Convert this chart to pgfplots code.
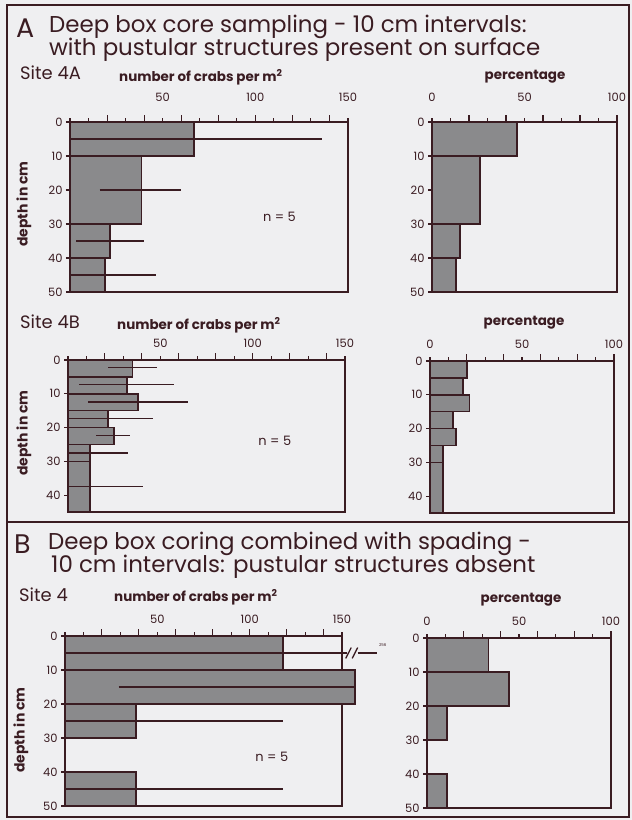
\documentclass[border=0pt]{standalone}
\usepackage{fontspec}
\setmainfont{Poppins}
\usepackage{pgfplots}
\pgfplotsset{compat=1.18}
\definecolor{bgc}{RGB}{239,239,241}
\definecolor{lc}{RGB}{58,28,34}
\definecolor{barc}{RGB}{138,138,140}
\pgfplotsset{
  panel/.style={scale only axis, anchor=north west, clip=false,
    axis line style={lc, line width=1.8bp},
    tick align=outside, xtick pos=right, ytick pos=left, xticklabel pos=right,
    major tick length=4bp, every tick/.style={lc, line width=1.1bp},
    tick label style={font=\fontsize{11.5}{12}\selectfont, text=lc},
    xticklabel style={yshift=5bp},
    extra tick style={major tick length=7bp},
    /pgf/number format/assume math mode=true,
    xmin=0, ymax=0},
  crabs/.style={panel, width=278bp, xmax=150, xtick={0,10,...,150},
    xticklabels={,,,,,50,,,,,100,,,,,150},
    extra x ticks={20,40,...,140}, extra x tick labels={}},
  perc/.style={panel, width=185bp, xmax=100, xtick={0,10,...,100},
    xticklabels={0,,,,,50,,,,,100},
    extra x ticks={20,40,...,100}, extra x tick labels={}},
  deep/.style={height=170bp, ymin=-50, ytick={-50,-40,...,0}, yticklabels={50,40,30,20,10,0}},
  shallow/.style={height=152bp, ymin=-45, ytick={-40,-30,...,0}, yticklabels={40,30,20,10,0}},
  bar/.style={fill=barc, draw=lc, line width=1.6bp},
  err/.style={lc, line width=1.3bp},
}
\newcommand{\ttl}{\fontsize{23}{24}\selectfont}
\newcommand{\site}{\fontsize{18}{19}\selectfont}
\newcommand{\lab}{\fontsize{13.5}{14}\selectfont\bfseries}
\newcommand{\dep}{\fontsize{14}{14}\selectfont\bfseries}
\newcommand{\nn}{\fontsize{13}{14}\selectfont}
\begin{document}
\begin{tikzpicture}
\useasboundingbox (0,0) rectangle (632bp,-820bp);
\fill[bgc] (0,0) rectangle (632bp,-820bp);
\draw[lc, line width=1.6bp] (7bp,-5bp) rectangle (629bp,-817bp);
\draw[lc, line width=2.4bp] (7bp,-522bp) -- (629bp,-522bp);
% Titles
\node[anchor=west, text=lc, inner sep=0] at (16bp,-28bp) {\fontsize{27}{28}\selectfont A};
\node[anchor=west, text=lc, inner sep=0] at (49bp,-27bp) {\ttl Deep box core sampling - 10 cm intervals:};
\node[anchor=west, text=lc, inner sep=0] at (49bp,-50bp) {\ttl with pustular structures present on surface};
\node[anchor=west, text=lc, inner sep=0] at (14bp,-544bp) {\fontsize{27}{28}\selectfont B};
\node[anchor=west, text=lc, inner sep=0] at (48bp,-544bp) {\ttl Deep box coring combined with spading -};
\node[anchor=west, text=lc, inner sep=0] at (51bp,-567bp) {\ttl 10 cm intervals: pustular structures absent};
% Site labels
\node[anchor=west, text=lc, inner sep=0] at (20bp,-73bp) {\site Site 4A};
\node[anchor=west, text=lc, inner sep=0] at (20bp,-322bp) {\site Site 4B};
\node[anchor=west, text=lc, inner sep=0] at (19bp,-595bp) {\site Site 4};
\node[anchor=west, text=lc, inner sep=0] at (119bp,-77bp) {\lab number of crabs per m\textsuperscript{2}};
\node[anchor=west, text=lc, inner sep=0] at (117bp,-325bp) {\lab number of crabs per m\textsuperscript{2}};
\node[anchor=west, text=lc, inner sep=0] at (114bp,-597bp) {\lab number of crabs per m\textsuperscript{2}};
\node[text=lc, inner sep=0] at (525bp,-77bp) {\lab percentage};
\node[text=lc, inner sep=0] at (524bp,-323bp) {\lab percentage};
\node[text=lc, inner sep=0] at (521bp,-600bp) {\lab percentage};
\node[rotate=90, text=lc, inner sep=0] at (24bp,-204bp) {\dep depth in cm};
\node[rotate=90, text=lc, inner sep=0] at (24bp,-433bp) {\dep depth in cm};
\node[rotate=90, text=lc, inner sep=0] at (21bp,-730bp) {\dep depth in cm};

% ---------- Site 4A crabs
\begin{axis}[crabs, deep, at={(70bp,-122bp)}, xticklabel style={yshift=8bp}]
\addplot[bar] coordinates {(0,0) (67,0) (67,-10) (0,-10)} -- cycle;
\addplot[bar] coordinates {(0,-10) (38.5,-10) (38.5,-30) (0,-30)} -- cycle;
\addplot[bar] coordinates {(0,-30) (21.5,-30) (21.5,-40) (0,-40)} -- cycle;
\addplot[bar] coordinates {(0,-40) (19,-40) (19,-50) (0,-50)} -- cycle;
\addplot[err] coordinates {(0,-5) (136,-5)};
\addplot[err] coordinates {(16,-20) (60,-20)};
\addplot[err] coordinates {(3.5,-35) (40,-35)};
\addplot[err] coordinates {(0,-45) (46.5,-45)};
\node[text=lc] at (axis cs:113,-28) {\nn n = 5};
\end{axis}
% ---------- Site 4A percentage
\begin{axis}[perc, deep, at={(432bp,-122bp)}, xticklabel style={yshift=8bp}]
\addplot[bar] coordinates {(0,0) (46,0) (46,-10) (0,-10)} -- cycle;
\addplot[bar] coordinates {(0,-10) (26,-10) (26,-30) (0,-30)} -- cycle;
\addplot[bar] coordinates {(0,-30) (15,-30) (15,-40) (0,-40)} -- cycle;
\addplot[bar] coordinates {(0,-40) (13,-40) (13,-50) (0,-50)} -- cycle;
\end{axis}
% ---------- Site 4B crabs
\begin{axis}[crabs, shallow, width=277bp, at={(68bp,-360bp)}]
\addplot[bar] coordinates {(0,0) (35,0) (35,-5) (0,-5)} -- cycle;
\addplot[bar] coordinates {(0,-5) (32,-5) (32,-10) (0,-10)} -- cycle;
\addplot[bar] coordinates {(0,-10) (38,-10) (38,-15) (0,-15)} -- cycle;
\addplot[bar] coordinates {(0,-15) (21.7,-15) (21.7,-20) (0,-20)} -- cycle;
\addplot[bar] coordinates {(0,-20) (25,-20) (25,-25) (0,-25)} -- cycle;
\addplot[bar] coordinates {(0,-25) (11.8,-25) (11.8,-30) (0,-30)} -- cycle;
\addplot[bar] coordinates {(0,-30) (11.8,-30) (11.8,-45) (0,-45)} -- cycle;
\addplot[err] coordinates {(21.7,-2.3) (48.3,-2.3)};
\addplot[err] coordinates {(6,-7.3) (57.3,-7.3)};
\addplot[err] coordinates {(10.8,-12.4) (65.1,-12.4)};
\addplot[err] coordinates {(0,-17.4) (46,-17.4)};
\addplot[err] coordinates {(15.4,-22.4) (33.8,-22.4)};
\addplot[err] coordinates {(0,-27.5) (32.5,-27.5)};
\addplot[err] coordinates {(0,-37.4) (40.5,-37.4)};
\node[text=lc] at (axis cs:112,-24) {\nn n = 5};
\end{axis}
% ---------- Site 4B percentage
\begin{axis}[perc, shallow, width=184bp, at={(430bp,-361bp)}]
\addplot[bar] coordinates {(0,0) (20,0) (20,-5) (0,-5)} -- cycle;
\addplot[bar] coordinates {(0,-5) (18,-5) (18,-10) (0,-10)} -- cycle;
\addplot[bar] coordinates {(0,-10) (21.5,-10) (21.5,-15) (0,-15)} -- cycle;
\addplot[bar] coordinates {(0,-15) (12.5,-15) (12.5,-20) (0,-20)} -- cycle;
\addplot[bar] coordinates {(0,-20) (14,-20) (14,-25) (0,-25)} -- cycle;
\addplot[bar] coordinates {(0,-25) (7,-25) (7,-30) (0,-30)} -- cycle;
\addplot[bar] coordinates {(0,-30) (7,-30) (7,-45) (0,-45)} -- cycle;
\end{axis}
% ---------- Site 4 (B) crabs
\begin{axis}[crabs, deep, width=277bp, at={(65bp,-636bp)}]
\addplot[bar] coordinates {(0,0) (118,0) (118,-10) (0,-10)} -- cycle;
\addplot[bar] coordinates {(0,-10) (157,-10) (157,-20) (0,-20)} -- cycle;
\addplot[bar] coordinates {(0,-20) (38.5,-20) (38.5,-30) (0,-30)} -- cycle;
\addplot[bar] coordinates {(0,-40) (38.5,-40) (38.5,-50) (0,-50)} -- cycle;
\addplot[err] coordinates {(0,-5) (152.5,-5)};
\addplot[err] coordinates {(158.5,-5) (169,-5)};
\draw[lc, line width=1.3bp] (axis cs:152,-6.6) -- (axis cs:155,-3.4);
\draw[lc, line width=1.3bp] (axis cs:155.5,-6.6) -- (axis cs:158.5,-3.4);
\node[text=lc, anchor=west, inner sep=0] at (axis cs:170,-2.8) {\fontsize{4}{4}\selectfont 256};
\addplot[err] coordinates {(29,-15) (157,-15)};
\addplot[err] coordinates {(0,-25) (118,-25)};
\addplot[err] coordinates {(0,-45) (118,-45)};
\node[text=lc] at (axis cs:112,-35.5) {\nn n = 5};
\end{axis}
% ---------- Site 4 (B) percentage
\begin{axis}[perc, deep, width=184bp, at={(427bp,-638bp)}]
\addplot[bar] coordinates {(0,0) (33.5,0) (33.5,-10) (0,-10)} -- cycle;
\addplot[bar] coordinates {(0,-10) (44.5,-10) (44.5,-20) (0,-20)} -- cycle;
\addplot[bar] coordinates {(0,-20) (11,-20) (11,-30) (0,-30)} -- cycle;
\addplot[bar] coordinates {(0,-40) (11,-40) (11,-50) (0,-50)} -- cycle;
\end{axis}
\end{tikzpicture}
\end{document}
